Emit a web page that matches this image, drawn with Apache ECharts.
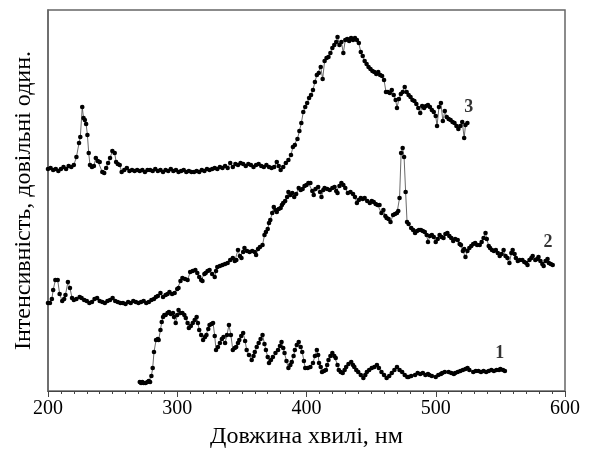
<!DOCTYPE html>
<html><head><meta charset="utf-8">
<script src="https://cdn.jsdelivr.net/npm/echarts@6/dist/echarts.min.js"></script>
<style>html,body{margin:0;padding:0;background:#fff}#c{width:589px;height:462px}</style>
</head><body><div id="c"></div>
<script>
// wavelength (nm), intensity (arbitrary units)
const series1 = [[271,9],[272,8],[273,9],[274,8],[275.5,8],[277,9],[278,10],[279,9],[280,15],[281,23],[282,39],[283.6,51],[285,52],[285.6,51],[287,61],[288,69],[289,74],[290,76],[291,76],[292.5,78],[293.6,79],[295,77],[296.7,78],[297.5,74],[298.8,68],[300,76],[301,81],[302.5,78],[304,78],[305.5,76],[306.6,73],[308,68],[309,63],[310.5,65],[312,68],[313.5,71],[315,74],[316,68],[317,61],[318.5,56],[320,51],[321.5,54],[322.6,56],[324,62],[325,66],[326.5,67],[327.7,68],[329,55],[330,41],[331.5,44],[333,48],[334.5,52],[335.8,54],[337,48],[338.5,56],[340,66],[341.5,56],[343,41],[344.5,43],[345.6,44],[347,48],[348,51],[349.5,55],[351,58],[352.5,50],[353.7,41],[355.5,36],[357.6,31],[359,35],[360,39],[361.5,44],[363,48],[364.5,52],[366,56],[367.5,47],[368.6,41],[370,34],[371,28],[372.5,31],[374,34],[376,38],[378,41],[379.5,45],[380.7,49],[382,43],[383,38],[384.5,30],[386,23],[387.5,26],[388.6,29],[390,35],[391,41],[392.5,46],[394,49],[395.5,44],[396.7,39],[398,30],[399,23],[401,23],[403,24],[405,28],[406.5,35],[408,41],[409,36],[409.7,28],[411,24],[412,19],[413.5,20],[415,21],[416,26],[417,31],[418.5,35],[420,38],[421.5,35],[422.6,33],[424,26],[425,21],[426.5,19],[428,18],[429.5,21],[430.7,24],[432.5,27],[434.6,29],[436,26],[437,24],[438.5,21],[440,19],[442,16],[444,13],[445.5,16],[446.7,19],[448.5,21],[450.5,23],[452.5,24],[454.5,26],[456,23],[458,19],[460,16],[462,13],[464,15],[466,18],[468,21],[470,24],[472,21],[474,19],[476,16],[478,14],[479,14],[481,15],[484,16],[486,18],[488,17],[490,18],[492,16],[494,17],[495,16],[497,15],[500,14],[502,16],[504,17],[505,18],[507,19],[510,19],[512,18],[514,17],[515,18],[517,19],[519,20],[521,21],[523,22],[524.6,23],[526,21],[529,19],[531,20],[533,20],[535,19],[537,20],[539,19],[541,20],[543,21],[545,20],[547,21],[549,21],[550,22],[552,21],[553.5,20]];

const series2 = [[200,88],[201.5,88],[203,92],[204,101],[205.7,111],[207.5,111],[209,97],[211,90],[212.5,92],[213.5,96],[215.4,109],[217,103],[218.6,93],[220,91],[222,92],[224.5,94],[226,93],[228,91],[230,90],[232,88],[234,89],[236,92],[238,93],[240,90],[242,89],[244,88],[246,90],[248,91],[250,93],[252,90],[254,89],[256,88],[258,88],[260,87],[262,89],[264,88],[266,90],[268,89],[270,88],[272,89],[274,90],[276,88],[278,89],[280,91],[282,92],[283.5,94],[285,95],[287,98],[289,94],[291,96],[292.5,97],[294,99],[296,97],[298,98],[300,102],[301,103],[302.5,110],[304,113],[306,112],[308,111],[310,119],[312,120],[314,121],[315.5,118],[317,114],[318.5,111],[319.5,110],[321,117],[322,118],[323.5,120],[325,121],[327,117],[329,114],[330,120],[331,124],[333,125],[335,126],[337,127],[339,128],[341,131],[343,133],[344.5,130],[345.7,131],[347,141],[348.5,135],[349.7,133],[351,139],[352,143],[354,140],[356,139],[358,140],[360,139],[361,136],[362.5,142],[364,144],[366,146],[367.5,156],[368.6,159],[370,162],[371,168],[372,171],[373.5,178],[374.7,184],[376,181],[377,179],[378.5,182],[380,183],[381,186],[382,188],[383.5,190],[385,194],[386,199],[387.5,196],[389,198],[390.5,194],[392,197],[394,203],[395.5,201],[397,202],[398.5,205],[400,206],[401.5,208],[403,208],[404.5,200],[405.6,196],[407,202],[409,204],[410.5,199],[411.6,194],[413,201],[414,203],[416,202],[418,201],[420,203],[421.7,204],[423,200],[424,198],[425.5,205],[427,208],[428.5,206],[430,203],[432,198],[434,199],[436,197],[437.5,194],[439,188],[440.5,191],[442,193],[443.5,192],[445,193],[447,190],[449,188],[450.5,190],[452,189],[453.5,187],[455,186],[456.5,186],[458,178],[459.5,181],[461,175],[462,173],[463.5,172],[465,169],[467,176],[468.5,177],[470,178],[471,180],[472,193],[473.2,238],[474.4,243],[475.5,234],[476.7,199],[477.8,169],[479,167],[481,163],[482.5,161],[484,158],[485.5,160],[487,161],[488.5,161],[490,160],[491.5,159],[493,156],[494,149],[495.5,155],[497,156],[498.5,154],[500,149],[501.5,152],[503,156],[504.5,154],[506,153],[507.5,157],[509,158],[510.5,155],[512,153],[513.5,150],[515,152],[517,151],[518.5,147],[519.5,146],[521,140],[522,142],[523,134],[524.5,140],[526,143],[527.5,145],[529,147],[530.5,148],[532,146],[534,146],[535.5,149],[537,153],[538.5,158],[539.5,152],[541,145],[542,143],[543.5,141],[545,140],[546.5,141],[548,138],[549.5,135],[551,137],[552.5,141],[554,135],[555.5,133],[557,128],[558.5,138],[559.5,141],[561,137],[562,133],[563.5,130],[565,131],[567,131],[568.5,129],[570,128],[571,126],[572.5,131],[574,133],[575,135],[577,131],[578.5,132],[579.5,134],[581,130],[582.5,127],[583.5,125],[585,130],[586.5,132],[587.5,128],[589,127],[590.5,126]];

const series3 = [[200,222],[202,223],[204,221],[206,222],[208,220],[210,222],[212,224],[214,222],[216,225],[218,224],[220,226],[222,234],[224,248],[225,254],[226.5,284],[227.5,273],[228.5,271],[229.5,267],[230.5,256],[231.5,238],[232.5,226],[234,224],[235.5,225],[237,233],[238.5,230],[240,229],[242,219],[243.5,218],[245,223],[246.5,228],[248,233],[249.8,240],[251.6,238],[252.7,229],[254,227],[255.5,226],[257,219],[259,221],[261,223],[263,220],[265,221],[267,220],[269,221],[271,220],[273,221],[275,219],[277,221],[279,221],[281,220],[283,222],[285,220],[287,221],[289,219],[291,221],[293,220],[295,222],[297,220],[299,221],[301,219],[303,220],[305,221],[307,219],[309,220],[311,219],[313,219],[315,220],[317,219],[319,221],[321,220],[323,222],[325,221],[327,222],[329,223],[331,222],[333,224],[335,223],[337,225],[339,223],[341,228],[343,224],[345,227],[347,226],[349,228],[351,227],[353,225],[355,227],[357,226],[359,224],[361,226],[363,227],[365,225],[367,224],[369,226],[371,224],[373,223],[375,224],[377,229],[378.5,225],[380,221],[382,224],[384,228],[386,231],[388,236],[389.5,244],[391,246],[393,252],[394.5,260],[396,268],[397.5,279],[399,284],[400.5,288],[402,293],[403.5,296],[405,301],[406.5,309],[408,316],[409.5,318],[411,324],[412.5,312],[414,330],[415.5,333],[417,334],[418.5,338],[420,343],[421.5,346],[423,349],[424,354],[425.5,346],[427,349],[428.5,338],[430,351],[431.5,352],[433,350],[434.5,353],[436,351],[437.5,353],[439,351],[440.5,348],[442,339],[443.5,335],[445,330],[446.5,327],[448,324],[449.5,322],[451,320],[452.5,319],[454,317],[455.5,319],[457,316],[458.5,315],[460,311],[461.5,299],[463,299],[464.5,298],[466,301],[467.5,296],[469,291],[470,283],[471.5,292],[473,297],[474.5,299],[476,304],[477.5,299],[479,296],[480.5,294],[482,291],[483.5,290],[485,287],[486.5,283],[488,278],[489.5,285],[491,283],[492.5,285],[494,286],[495.5,284],[497,281],[498.5,279],[500,275],[501,265],[502.5,284],[504,288],[505.5,270],[507,280],[508.5,274],[510,272],[511.5,271],[513,269],[514.5,268],[516,265],[517.5,262],[519,265],[520.5,269],[522,253],[523,266],[524.5,268]];

const curveLabels = [[549.6,38,'1'],[586.8,149,'2'],[525.6,284,'3']];
const xTicks = [200,300,400,500,600];

const serif = '"Liberation Serif","Times New Roman",serif';
const chart = echarts.init(document.getElementById('c'), null, {renderer:'canvas'});
function curve(d){
  return {type:'line', data:d, symbol:'circle', symbolSize:4.6, showSymbol:true,
    itemStyle:{color:'#000'}, lineStyle:{color:'#444', width:0.8}, animation:false, z:2};
}
chart.setOption({
  animation:false,
  grid:{left:48, right:24, top:10, bottom:71, show:true, borderColor:'#666', borderWidth:1.5},
  xAxis:{type:'value', min:xTicks[0], max:xTicks[xTicks.length-1], interval:100,
    axisLine:{show:true, lineStyle:{color:'#444', width:1.2}},
    axisTick:{show:true, length:6, inside:false, lineStyle:{color:'#444'}},
    minorTick:{show:true, splitNumber:10, length:3, lineStyle:{color:'#444'}},
    splitLine:{show:false},
    axisLabel:{color:'#000', fontFamily:serif, fontSize:20, margin:8},
    name:'Довжина хвилі, нм', nameLocation:'middle', nameGap:34,
    nameTextStyle:{color:'#000', fontFamily:serif, fontSize:24}},
  yAxis:{type:'value', min:0, max:381,
    axisLine:{show:true, lineStyle:{color:'#666', width:1.5}}, axisTick:{show:false},
    axisLabel:{show:false}, splitLine:{show:false},
    name:'Інтенсивність, довільні один.', nameLocation:'middle', nameGap:12,
    nameTextStyle:{color:'#000', fontFamily:serif, fontSize:24}},
  series:[curve(series1), curve(series2), curve(series3),
    {type:'scatter', data:curveLabels.map(l=>({value:[l[0],l[1]], name:l[2]})), symbolSize:0,
     label:{show:true, formatter:p=>p.name, color:'#000', fontFamily:serif, fontSize:18, fontWeight:'bold', position:'inside'},
     silent:true, z:5}]
});
</script></body></html>
